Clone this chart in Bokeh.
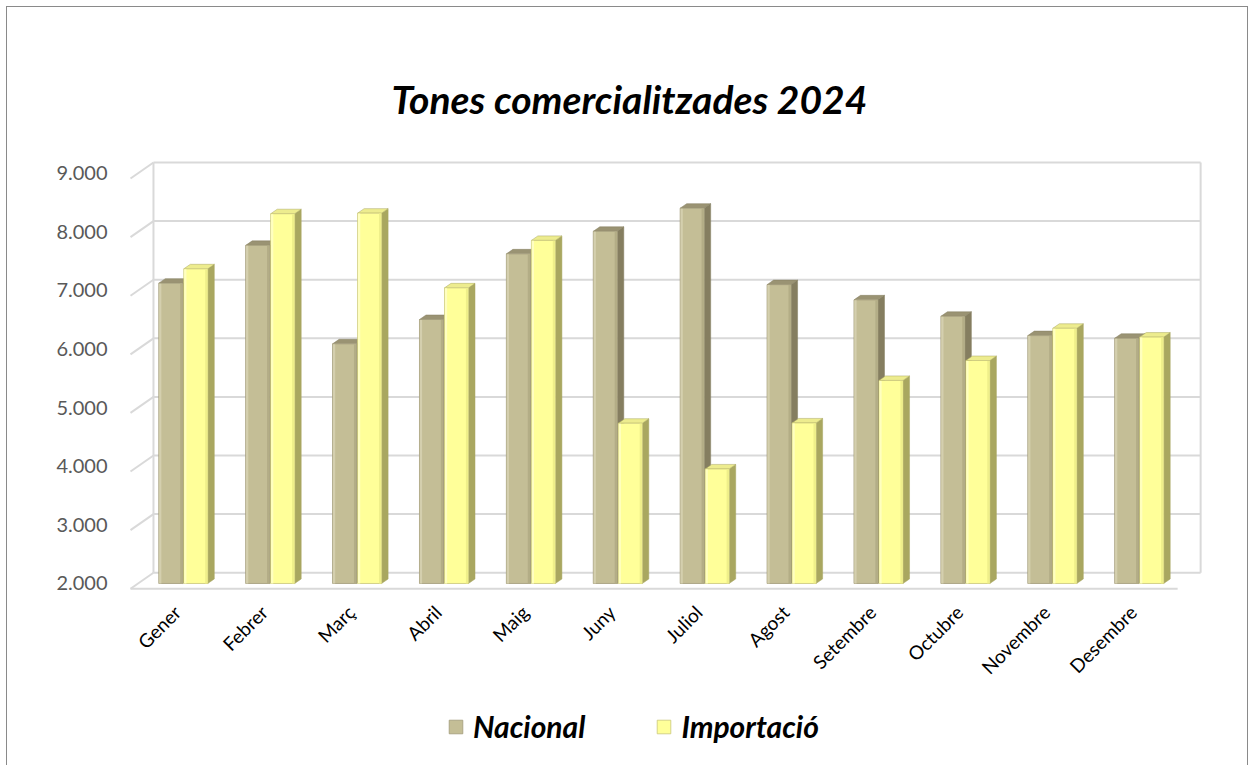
import numpy as np
from bokeh.plotting import figure
from bokeh.models import FixedTicker, Legend, LegendItem
from bokeh.core.properties import value
from bokeh.embed import file_html
from bokeh.resources import INLINE

# ---------------- data ----------------
months = ["Gener", "Febrer", "Març", "Abril", "Maig", "Juny", "Juliol",
          "Agost", "Setembre", "Octubre", "Novembre", "Desembre"]
nacional = [7125, 7770, 6090, 6505, 7625, 8010, 8405, 7100, 6840, 6560, 6230, 6185]
importacio = [7370, 8310, 8320, 7045, 7855, 4735, 3955, 4740, 5465, 5805, 6355, 6205]
y_ticks = [2000, 3000, 4000, 5000, 6000, 7000, 8000, 9000]
y_tick_labels = ["2.000", "3.000", "4.000", "5.000", "6.000", "7.000", "8.000", "9.000"]

# ---------------- layout / 3D geometry constants ----------------
BASE = y_ticks[0]
TOP = y_ticks[-1]
W = 0.276          # bar front width (category units)
OFF = 0.144        # dodge offset
DDX, DDY = 0.075, 77      # bar depth offset
BDX, BDY = 0.177, 184     # back wall offset from bar plane
FDX, FDY = -0.0875, -89   # front plane offset from bar plane
X_LO, X_HI = -0.52, 11.53
LABEL_DY = -430           # month labels below the floor
LABEL_DX = -0.07
GRID = "#D9D9D9"

p = figure(width=1242, height=759, x_range=(-0.665, 11.763), y_range=(-1123, 9389),
           output_backend="svg", toolbar_location=None, x_axis_location=None,
           min_border_left=118, min_border_right=44, min_border_top=143, min_border_bottom=0)
p.styles = {"margin": "6px 0 0 6px",
            "border-left": "1px solid #8a8a8a",
            "border-top": "1px solid #8a8a8a",
            "border-right": "1px solid #8a8a8a"}
p.xgrid.visible = False
p.ygrid.visible = False
p.outline_line_color = None
p.background_fill_color = "white"
p.border_fill_color = "white"

# title
p.title.text = "Tones comercialitzades 2024"
p.title.align = "left"
p.title.offset = 266
p.title.standoff = 58
p.title.text_font = "Lato"
p.title.text_font_size = "39px"
p.title.text_font_style = "bold italic"
p.title.text_color = "black"

# y axis
p.yaxis.ticker = FixedTicker(ticks=y_ticks)
p.yaxis.major_label_overrides = {t: l for t, l in zip(y_ticks, y_tick_labels)}
p.yaxis.major_label_text_font = "Lato"
p.yaxis.major_label_text_font_size = "20px"
p.yaxis.major_label_text_color = "#595959"
p.yaxis.major_label_standoff = 12
p.yaxis.axis_line_color = None
p.yaxis.major_tick_line_color = None
p.yaxis.minor_tick_line_color = None

# ---------------- walls ----------------
yt = np.array(y_ticks, dtype=float)
n = len(yt)
p.segment(x0=[X_LO + BDX] * n, y0=yt + BDY, x1=[X_HI + BDX] * n, y1=yt + BDY,
          line_color=GRID, line_width=2)
p.segment(x0=[X_LO + FDX] * n, y0=yt + FDY, x1=[X_LO + BDX] * n, y1=yt + BDY,
          line_color=GRID, line_width=2)
p.segment(x0=[X_LO + BDX, X_HI + BDX], y0=[BASE + BDY] * 2,
          x1=[X_LO + BDX, X_HI + BDX], y1=[TOP + BDY] * 2,
          line_color=GRID, line_width=2)
p.segment(x0=[X_LO + FDX], y0=[BASE + FDY], x1=[X_HI + FDX], y1=[BASE + FDY],
          line_color=GRID, line_width=2)

# month labels (category axis)
p.text(x=np.arange(len(months)) + LABEL_DX, y=[BASE + LABEL_DY] * len(months), text=months,
       angle=np.pi / 4, text_align="right", text_baseline="middle",
       text_font=value("Lato"), text_font_size="19px", text_color="black")


def bars3d(vals, off, front, side, top, light, dark, edge):
    xc = np.arange(len(vals)) + off
    x0 = xc - W / 2
    x1 = xc + W / 2
    v = np.array(vals, dtype=float)
    side_xs = [[a, a + DDX, a + DDX, a] for a in x1]
    side_ys = [[BASE, BASE + DDY, t + DDY, t] for t in v]
    top_xs = [[a, b, b + DDX, a + DDX] for a, b in zip(x0, x1)]
    top_ys = [[t, t, t + DDY, t + DDY] for t in v]
    p.patches(side_xs, side_ys, fill_color=side, line_color=side, line_width=0.5)
    p.patches(top_xs, top_ys, fill_color=top, line_color=side, line_width=0.5)
    r = p.quad(left=x0, right=x1, bottom=BASE, top=v, fill_color=front,
               line_color=edge, line_width=0.8)
    p.quad(left=x0 + 0.004, right=x0 + 0.03, bottom=BASE, top=v - 8,
           fill_color=light, line_color=None)
    p.quad(left=x1 - 0.03, right=x1 - 0.004, bottom=BASE, top=v - 8,
           fill_color=dark, line_color=None)
    return r


r_nac = bars3d(nacional, -OFF, "#C4BE96", "#857E60", "#9A9373", "#D4CFAE", "#B3AD86", "#A19B78")
r_imp = bars3d(importacio, OFF, "#FFFF99", "#A9A760", "#EDEC8E", "#FFFFC0", "#EFEF8A", "#C9C77A")

legend = Legend(items=[LegendItem(label="Nacional", renderers=[r_nac]),
                       LegendItem(label="Importació", renderers=[r_imp])],
                orientation="horizontal", location=(322, 22),
                glyph_width=17, glyph_height=17, label_standoff=9, spacing=70,
                label_text_font="Lato", label_text_font_size="30px",
                label_text_font_style="bold italic", label_text_color="black",
                padding=0, margin=0, border_line_color=None, background_fill_alpha=0)
p.add_layout(legend)

open("out.html", "w").write(file_html(p, INLINE))
